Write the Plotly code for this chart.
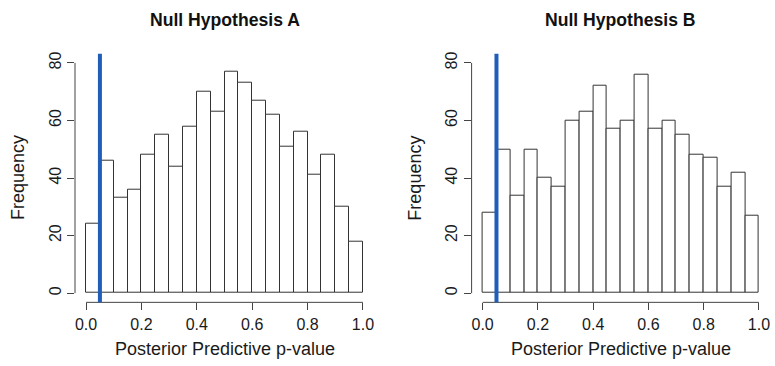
import numpy as np
import plotly.graph_objects as go

# Data
bin_edges = [round(0.05 * i, 2) for i in range(21)]
counts_a = [24, 46, 33, 36, 48, 55, 44, 58, 70, 63, 77, 73, 67, 62, 51, 56, 41, 48, 30, 18]
counts_b = [28, 50, 34, 50, 40, 37, 60, 63, 72, 57, 60, 76, 57, 60, 55, 48, 47, 37, 42, 27]
titles = ["Null Hypothesis A", "Null Hypothesis B"]
threshold = 0.05
x_ticks = [0.0, 0.2, 0.4, 0.6, 0.8, 1.0]
x_ticktext = ["0.0", "0.2", "0.4", "0.6", "0.8", "1.0"]
y_ticks = [0, 20, 40, 60, 80]
x_label = "Posterior Predictive p-value"
y_label = "Frequency"

W, H = 775, 366
FONT = "Liberation Sans, Arial, Helvetica, sans-serif"
AXIS_COL = "#444444"
TEXT_COL = "#1a1a1a"

centers = [(bin_edges[i] + bin_edges[i + 1]) / 2 for i in range(len(bin_edges) - 1)]
widths = [bin_edges[i + 1] - bin_edges[i] for i in range(len(bin_edges) - 1)]

x_domains = [[75 / W, 374 / W], [471.6 / W, 770 / W]]
y_domain = [(H - 302) / H, (H - 52) / H]

fig = go.Figure()
annotations = []
shapes = []
for k, (counts, title) in enumerate(zip([counts_a, counts_b], titles)):
    xa = "x" if k == 0 else "x2"
    ya = "y" if k == 0 else "y2"
    fig.add_trace(go.Bar(
        x=centers, y=counts, width=widths,
        marker=dict(color="white", line=dict(color="#333333", width=1)),
        xaxis=xa, yaxis=ya, showlegend=False, hoverinfo="x+y",
    ))
    sfx = "" if k == 0 else "2"
    fig.layout["xaxis" + sfx] = dict(
        domain=x_domains[k], range=[-0.04, 1.04], anchor=ya,
        tickmode="array", tickvals=x_ticks, ticktext=x_ticktext,
        showline=False, showgrid=False, zeroline=False,
        ticks="outside", ticklen=7, tickcolor=AXIS_COL, tickwidth=1,
        tickfont=dict(family=FONT, size=16, color=TEXT_COL),
    )
    fig.layout["yaxis" + sfx] = dict(
        domain=y_domain, range=[-3.2, 83.2], anchor=xa,
        tickmode="array", tickvals=y_ticks, tickangle=-90,
        showline=False, showgrid=False, zeroline=False,
        ticks="outside", ticklen=7, tickcolor=AXIS_COL, tickwidth=1,
        tickfont=dict(family=FONT, size=16, color=TEXT_COL),
    )
    # R-style detached axis lines spanning only the tick range
    shapes.append(dict(type="line", xref=xa, yref=ya + " domain",
                       x0=x_ticks[0], x1=x_ticks[-1], y0=0, y1=0,
                       line=dict(color=AXIS_COL, width=1)))
    shapes.append(dict(type="line", xref=xa + " domain", yref=ya,
                       x0=0, x1=0, y0=y_ticks[0], y1=y_ticks[-1],
                       line=dict(color=AXIS_COL, width=1)))
    # threshold line
    shapes.append(dict(type="line", xref=xa, yref=ya + " domain",
                       x0=threshold, x1=threshold, y0=0, y1=1,
                       line=dict(color="#1F5FBA", width=4), layer="above"))
    cx = (x_domains[k][0] + x_domains[k][1]) / 2
    annotations.append(dict(text="<b>" + title + "</b>", xref="paper", yref="paper",
                            x=cx, y=1 - 18 / H, showarrow=False,
                            xanchor="center", yanchor="middle",
                            font=dict(family=FONT, size=17.6, color="#111111")))
    annotations.append(dict(text=x_label, xref="paper", yref="paper",
                            x=cx, y=1 - 349 / H, showarrow=False,
                            xanchor="center", yanchor="middle",
                            font=dict(family=FONT, size=18, color=TEXT_COL)))
    annotations.append(dict(text=y_label, xref="paper", yref="paper",
                            x=(x_domains[k][0] * W - 57) / W,
                            y=(y_domain[0] + y_domain[1]) / 2, showarrow=False,
                            textangle=-90, xanchor="center", yanchor="middle",
                            font=dict(family=FONT, size=18, color=TEXT_COL)))

fig.update_layout(
    width=W, height=H, margin=dict(l=0, r=0, t=0, b=0),
    paper_bgcolor="white", plot_bgcolor="white",
    bargap=0, annotations=annotations, shapes=shapes,
)
fig.write_html("out.html")
